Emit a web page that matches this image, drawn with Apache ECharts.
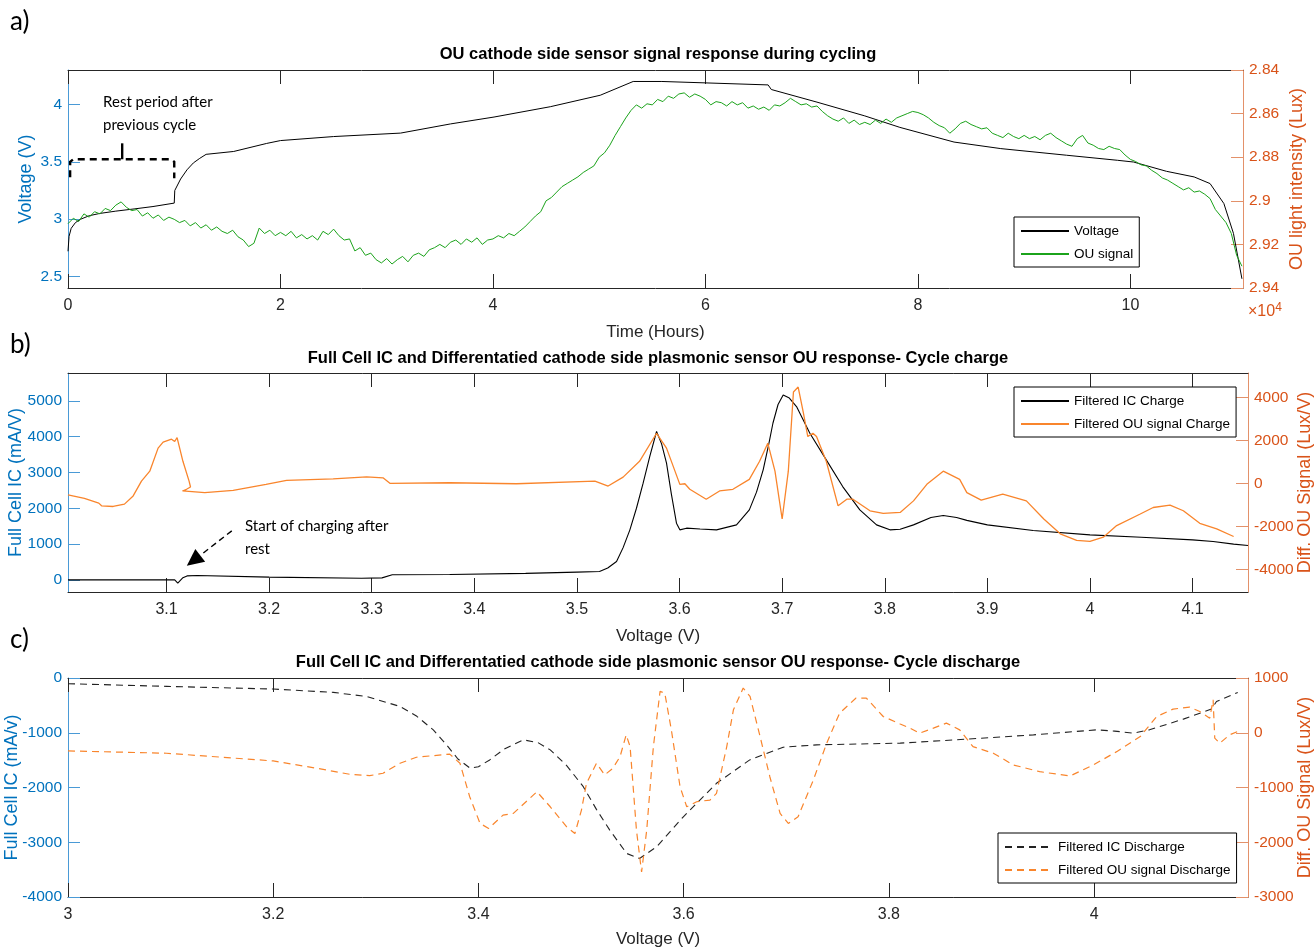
<!DOCTYPE html>
<html>
<head>
<meta charset="utf-8">
<script src="https://cdn.jsdelivr.net/npm/echarts@6/dist/echarts.min.js"></script>
<style>
  html, body { margin: 0; padding: 0; background: #fff; }
  #chart { width: 1316px; height: 951px; }
</style>
</head>
<body>
<div id="chart"></div>
<script>
// a) cell voltage vs time (time in units of 1e4 s)
const voltage = [
  [0.0, 2.72], [0.01, 2.85], [0.03, 2.92], [0.07, 2.97], [0.12, 3.0], [0.2, 3.03], [0.3, 3.05],
  [0.45, 3.07], [0.63, 3.09], [0.8, 3.11], [1.0, 3.14], [1.005, 3.25], [1.06, 3.35], [1.12, 3.43],
  [1.18, 3.49], [1.24, 3.53], [1.3, 3.565], [1.56, 3.59], [1.87, 3.66], [2.0, 3.685], [2.5, 3.72],
  [3.13, 3.75], [3.6, 3.83], [4.01, 3.89], [4.54, 3.98], [5.01, 4.08], [5.32, 4.2], [5.59, 4.2],
  [5.6, 4.19], [6.59, 4.17], [6.62, 4.13], [7.05, 4.02], [7.5, 3.9], [7.83, 3.8], [8.34, 3.672],
  [8.78, 3.615], [9.4, 3.557], [9.88, 3.513], [10.03, 3.498], [10.34, 3.417], [10.6, 3.368],
  [10.75, 3.31], [10.88, 3.136], [10.97, 2.876], [11.05, 2.48]
]

// a) OU light intensity, sampled every 0.05 (x1e4 s) from 0
const ouStart = 0
const ouStep = 0.05
const ouSignal = [
  2.9105, 2.9080, 2.9095, 2.9060, 2.9075, 2.9050, 2.9060, 2.9035, 2.9045, 2.9020,
  2.9005, 2.9030, 2.9045, 2.9040, 2.9070, 2.9055, 2.9080, 2.9065, 2.9090, 2.9075,
  2.9085, 2.9100, 2.9090, 2.9115, 2.9100, 2.9125, 2.9110, 2.9135, 2.9120, 2.9140,
  2.9150, 2.9135, 2.9165, 2.9180, 2.9210, 2.9195, 2.9125, 2.9150, 2.9135, 2.9160,
  2.9145, 2.9160, 2.9140, 2.9170, 2.9155, 2.9175, 2.9160, 2.9180, 2.9140, 2.9155,
  2.9130, 2.9160, 2.9180, 2.9175, 2.9230, 2.9215, 2.9250, 2.9240, 2.9270, 2.9285,
  2.9265, 2.9290, 2.9270, 2.9255, 2.9280, 2.9250, 2.9240, 2.9255, 2.9225, 2.9215,
  2.9200, 2.9215, 2.9190, 2.9180, 2.9200, 2.9175, 2.9190, 2.9170, 2.9200, 2.9180,
  2.9175, 2.9160, 2.9170, 2.9150, 2.9160, 2.9140, 2.9120, 2.9095, 2.9070, 2.9050,
  2.9000, 2.8985, 2.8960, 2.8935, 2.8920, 2.8905, 2.8890, 2.8870, 2.8855, 2.8840,
  2.8800, 2.8780, 2.8745, 2.8700, 2.8660, 2.8620, 2.8585, 2.8560, 2.8575, 2.8555,
  2.8560, 2.8535, 2.8545, 2.8520, 2.8530, 2.8510, 2.8505, 2.8525, 2.8510, 2.8520,
  2.8535, 2.8560, 2.8545, 2.8550, 2.8565, 2.8545, 2.8560, 2.8550, 2.8575, 2.8565,
  2.8580, 2.8570, 2.8585, 2.8560, 2.8565, 2.8550, 2.8530, 2.8545, 2.8560, 2.8555,
  2.8570, 2.8565, 2.8590, 2.8610, 2.8625, 2.8635, 2.8620, 2.8645, 2.8630, 2.8650,
  2.8640, 2.8650, 2.8630, 2.8645, 2.8625, 2.8640, 2.8620, 2.8610, 2.8600, 2.8590,
  2.8595, 2.8605, 2.8620, 2.8640, 2.8655, 2.8665, 2.8690, 2.8670, 2.8645, 2.8635,
  2.8650, 2.8660, 2.8670, 2.8665, 2.8690, 2.8700, 2.8710, 2.8690, 2.8705, 2.8715,
  2.8700, 2.8715, 2.8705, 2.8720, 2.8700, 2.8690, 2.8710, 2.8725, 2.8740, 2.8750,
  2.8715, 2.8700, 2.8735, 2.8745, 2.8760, 2.8765, 2.8750, 2.8760, 2.8765, 2.8790,
  2.8810, 2.8820, 2.8835, 2.8840, 2.8860, 2.8875, 2.8895, 2.8905, 2.8920, 2.8935,
  2.8950, 2.8940, 2.8960, 2.8955, 2.8970, 2.8990, 2.9040, 2.9070, 2.9100, 2.9150,
  2.9250, 2.9300
]

// b) charge: IC (mA/V) and differentiated OU (Lux/V) vs voltage
const icCharge = [
  [3.004, 0], [3.05, 0], [3.108, 0], [3.111, -90], [3.116, 60], [3.12, 110], [3.13, 120], [3.2, 75],
  [3.29, 45], [3.31, 55], [3.32, 140], [3.376, 150], [3.45, 180], [3.5, 215], [3.522, 232], [3.53, 330],
  [3.5386, 512], [3.545, 900], [3.5516, 1397], [3.558, 2000], [3.5645, 2700], [3.571, 3450],
  [3.5776, 4145], [3.5825, 3800], [3.5873, 3260], [3.592, 2400], [3.597, 1584], [3.6003, 1397],
  [3.6068, 1444], [3.62, 1420], [3.636, 1397], [3.6555, 1536], [3.668, 1955], [3.675, 2450],
  [3.6815, 3073], [3.687, 3800], [3.691, 4376], [3.696, 4900], [3.701, 5168], [3.707, 5080],
  [3.714, 4842], [3.727, 4097], [3.743, 3352], [3.759, 2606], [3.7757, 1955], [3.792, 1536],
  [3.805, 1397], [3.815, 1415], [3.828, 1536], [3.845, 1740], [3.857, 1800], [3.87, 1740],
  [3.88, 1662], [3.9, 1536], [3.9446, 1378], [4.0, 1257], [4.05, 1190], [4.1, 1117], [4.12, 1070],
  [4.14, 997], [4.154, 960]
]
const ouCharge = [
  [3.004, -540], [3.02, -700], [3.034, -920], [3.0367, -1044], [3.048, -1075], [3.059, -966],
  [3.0675, -584], [3.0756, 106], [3.0837, 566], [3.0918, 1638], [3.0967, 1914], [3.1049, 2052],
  [3.108, 1946], [3.1103, 2130], [3.116, 1026], [3.122, 106], [3.1234, -170], [3.1195, -276],
  [3.1156, -354], [3.1373, -432], [3.165, -322], [3.197, -46], [3.217, 138], [3.2624, 212],
  [3.295, 304], [3.311, 258], [3.3177, 0], [3.376, 28], [3.441, -18], [3.5175, 106], [3.5304, -124],
  [3.545, 290], [3.561, 1026], [3.5776, 2328], [3.5873, 1638], [3.6003, -46], [3.6052, -18],
  [3.61, -276], [3.626, -736], [3.639, -354], [3.652, -276], [3.668, 184], [3.678, 1026],
  [3.686, 1868], [3.693, 566], [3.7, -1656], [3.706, 566], [3.711, 4246], [3.7156, 4476],
  [3.7205, 3326], [3.725, 2176], [3.73, 2328], [3.7335, 2176], [3.743, 1026], [3.7545, -1044],
  [3.763, -736], [3.769, -736], [3.7856, -1274], [3.7985, -1398], [3.815, -1352], [3.828, -814],
  [3.841, -46], [3.857, 566], [3.873, 184], [3.88, -432], [3.894, -782], [3.915, -506], [3.938, -814],
  [3.955, -1656], [3.971, -2346], [3.987, -2654], [4.0, -2700], [4.013, -2502], [4.026, -1964],
  [4.049, -1426], [4.0616, -1122], [4.078, -1012], [4.091, -1274], [4.107, -1858], [4.1235, -2116],
  [4.14, -2470]
]

// c) discharge
const icDischarge = [
  [3.0, -104], [3.096, -153], [3.2, -202], [3.2585, -263], [3.291, -337], [3.3236, -520], [3.34, -700],
  [3.356, -947], [3.369, -1221], [3.38, -1480], [3.392, -1648], [3.4, -1620], [3.411, -1496],
  [3.425, -1300], [3.4438, -1130], [3.458, -1180], [3.47, -1313], [3.486, -1600], [3.5022, -1985],
  [3.515, -2400], [3.528, -2778], [3.5445, -3205], [3.557, -3297], [3.5737, -3084], [3.5997, -2535],
  [3.632, -1923], [3.6644, -1496], [3.697, -1264], [3.7295, -1221], [3.811, -1190], [3.876, -1117],
  [3.941, -1038], [4.0026, -947], [4.02, -970], [4.038, -1007], [4.054, -947], [4.087, -751],
  [4.1144, -568], [4.1193, -429], [4.14, -263]
]
const ouDischarge = [
  [3.0, -332], [3.096, -374], [3.2, -515], [3.2424, -649], [3.2746, -759], [3.294, -784], [3.307, -740],
  [3.3236, -557], [3.3396, -447], [3.372, -390], [3.382, -557], [3.3915, -1169], [3.4016, -1657],
  [3.41, -1748], [3.424, -1504], [3.434, -1473], [3.457, -1078], [3.47, -1352], [3.486, -1719],
  [3.494, -1840], [3.5004, -1413], [3.5053, -924], [3.515, -557], [3.523, -771], [3.531, -649],
  [3.538, -436], [3.544, -39], [3.5478, -253], [3.554, -1779], [3.559, -2543], [3.564, -1779],
  [3.5705, -253], [3.577, 755], [3.5816, 725], [3.588, 53], [3.5965, -986], [3.603, -1352],
  [3.6127, -1260], [3.6257, -1229], [3.632, -1107], [3.642, -253], [3.6485, 419], [3.658, 817],
  [3.6647, 663], [3.6745, -70], [3.684, -803], [3.694, -1473], [3.702, -1657], [3.7115, -1535],
  [3.7264, -863], [3.7394, -191], [3.752, 359], [3.768, 634], [3.778, 634], [3.7945, 297], [3.811, 160],
  [3.8206, 84], [3.83, -8], [3.8434, 84], [3.856, 176], [3.869, 53], [3.882, -253], [3.9018, -374],
  [3.9213, -588], [3.947, -711], [3.9766, -790], [3.9993, -588], [4.022, -345], [4.045, -70],
  [4.061, 297], [4.077, 432], [4.093, 469], [4.103, 388], [4.1127, 267], [4.116, 603], [4.1176, -99],
  [4.1225, -191], [4.132, -39], [4.14, 22]
]

// tick labels
const timeTicks = [0, 2, 4, 6, 8, 10]
const voltTicksA = [2.5, 3, 3.5, 4]
const luxTicks = [2.84, 2.86, 2.88, 2.9, 2.92, 2.94]
const vTicksB = [3.1, 3.2, 3.3, 3.4, 3.5, 3.6, 3.7, 3.8, 3.9, 4, 4.1]
const icTicksB = [0, 1000, 2000, 3000, 4000, 5000]
const diffTicksB = [-4000, -2000, 0, 2000, 4000]
const vTicksC = [3, 3.2, 3.4, 3.6, 3.8, 4]
const icTicksC = [-4000, -3000, -2000, -1000, 0]
const diffTicksC = [-3000, -2000, -1000, 0, 1000]

// annotations (data coords)
const restBracket = [[0.02, 3.365], [0.02, 3.50], [0.05, 3.522], [0.97, 3.522], [1.0, 3.50], [1.0, 3.357]]
const restNotch = [[0.51, 3.522], [0.51, 3.661]]
const restText = [0.33, 4.12]
const chargeArrow = [[3.1636, 1369], [3.1198, 391]]
const chargeText = [3.1765, 1816]

const sans = '"Liberation Sans", Arial, sans-serif'
const calib = 'Lato, "Open Sans", sans-serif'
const blue = '#0072BD'
const blueLine = '#4A9AD6'
const orange = '#D95319'
const orangeLine = '#E3916A'
const dark = '#262626'
const green = '#1BA31B'
const lineOrange = '#F9852C'

const fmt = v => String(v)

const bottomX = (grid, min, max, ticks, name, nameGap) => ({
  type: 'value', gridIndex: grid, position: 'bottom', min, max,
  name, nameLocation: 'middle', nameGap, nameMoveOverlap: false,
  nameTextStyle: { fontFamily: sans, fontSize: 17, color: dark },
  axisLine: { show: true, onZero: false, lineStyle: { color: dark, width: 1 } },
  axisTick: { show: true, inside: true, length: 14, customValues: ticks, lineStyle: { color: dark } },
  axisLabel: { customValues: ticks, margin: 10, fontFamily: sans, fontSize: 16, color: dark, formatter: fmt },
  splitLine: { show: false }
})
const topX = (grid, min, max, ticks) => ({
  type: 'value', gridIndex: grid, position: 'top', min, max,
  axisLine: { show: true, onZero: false, lineStyle: { color: dark, width: 1 } },
  axisTick: { show: true, inside: true, length: 14, customValues: ticks, lineStyle: { color: dark } },
  axisLabel: { show: false },
  splitLine: { show: false }
})
const yAx = (grid, pos, min, max, ticks, name, nameGap, inverse) => {
  const c = pos === 'left' ? blue : orange
  const lc = pos === 'left' ? blueLine : orangeLine
  return {
    type: 'value', gridIndex: grid, position: pos, min, max, inverse: !!inverse,
    name, nameLocation: 'middle', nameGap, nameRotate: 90, nameMoveOverlap: false,
    nameTextStyle: { fontFamily: sans, fontSize: 18, color: c },
    axisLine: { show: true, onZero: false, lineStyle: { color: lc, width: 1 } },
    axisTick: { show: true, inside: true, length: 12, customValues: ticks, lineStyle: { color: lc } },
    axisLabel: { customValues: ticks, margin: 6, fontFamily: sans, fontSize: 15.5, color: c, formatter: fmt },
    splitLine: { show: false }
  }
}
const legendBox = (names, left, top) => ({
  data: names, orient: 'vertical', left, top, selectedMode: false,
  itemWidth: 48, itemHeight: 12, itemGap: 9, padding: [7, 6, 6, 6],
  itemStyle: { opacity: 0 },
  borderColor: '#000', borderWidth: 1, backgroundColor: '#fff', borderRadius: 0,
  textStyle: { fontFamily: sans, fontSize: 13.5, color: '#000' }
})
const titleStyle = { fontFamily: sans, fontWeight: 'bold', fontSize: 16.5, color: '#000' }

const option = {
  animation: false,
  backgroundColor: '#fff',
  title: [
    { text: 'OU cathode side sensor signal response during cycling', left: 'center', top: 46, padding: 0, textStyle: titleStyle },
    { text: 'Full Cell IC and Differentatied cathode side plasmonic sensor OU response- Cycle charge', left: 'center', top: 350, padding: 0, textStyle: titleStyle },
    { text: 'Full Cell IC and Differentatied cathode side plasmonic sensor OU response- Cycle discharge', left: 'center', top: 654, padding: 0, textStyle: titleStyle }
  ],
  grid: [
    { left: 68, right: 73, top: 70, height: 218, outerBoundsMode: 'none' },
    { left: 68, right: 68, top: 373, height: 219, outerBoundsMode: 'none' },
    { left: 68, right: 68, top: 678, height: 219, outerBoundsMode: 'none' }
  ],
  xAxis: [
    bottomX(0, 0, 11.06, timeTicks, 'Time (Hours)', 36),
    topX(0, 0, 11.06, timeTicks),
    bottomX(1, 3.004, 4.154, vTicksB, 'Voltage (V)', 36),
    topX(1, 3.004, 4.154, vTicksB),
    bottomX(2, 3, 4.15, vTicksC, 'Voltage (V)', 34),
    topX(2, 3, 4.15, vTicksC)
  ],
  yAxis: [
    yAx(0, 'left', 2.4, 4.3, voltTicksA, 'Voltage (V)', 33),
    yAx(0, 'right', 2.84, 2.94, luxTicks, 'OU light intensity (Lux)', 45, true),
    yAx(1, 'left', -340, 5780, icTicksB, 'Full Cell IC (mA/V)', 43),
    yAx(1, 'right', -5050, 5130, diffTicksB, 'Diff. OU Signal (Lux/V)', 48),
    yAx(2, 'left', -4000, 0, icTicksC, 'Full Cell IC (mA/v)', 47),
    yAx(2, 'right', -3000, 1000, diffTicksC, 'Diff. OU Signal (Lux/V)', 48)
  ],
  legend: [
    legendBox(['Voltage', 'OU signal'], 1014, 217),
    legendBox(['Filtered IC Charge', 'Filtered OU signal Charge'], 1014, 387),
    legendBox(['Filtered IC Discharge', 'Filtered OU signal Discharge'], 998, 833)
  ],
  series: [
    { name: 'Voltage', type: 'line', xAxisIndex: 0, yAxisIndex: 0, symbol: 'none', data: voltage,
      lineStyle: { color: '#000', width: 1 }, itemStyle: { color: '#000' } },
    { name: 'OU signal', type: 'line', xAxisIndex: 0, yAxisIndex: 1, symbol: 'none',
      data: ouSignal.map((v, i) => [ouStart + i * ouStep, v]),
      lineStyle: { color: green, width: 1 }, itemStyle: { color: green } },
    { name: 'Filtered IC Charge', type: 'line', xAxisIndex: 2, yAxisIndex: 2, symbol: 'none', data: icCharge,
      lineStyle: { color: '#000', width: 1.1 }, itemStyle: { color: '#000' } },
    { name: 'Filtered OU signal Charge', type: 'line', xAxisIndex: 2, yAxisIndex: 3, symbol: 'none', data: ouCharge,
      lineStyle: { color: lineOrange, width: 1.3 }, itemStyle: { color: lineOrange } },
    { name: 'Filtered IC Discharge', type: 'line', xAxisIndex: 4, yAxisIndex: 4, symbol: 'none', data: icDischarge,
      lineStyle: { color: '#222', width: 1.1, type: [7, 5] }, itemStyle: { color: '#222' } },
    { name: 'Filtered OU signal Discharge', type: 'line', xAxisIndex: 4, yAxisIndex: 5, symbol: 'none', data: ouDischarge,
      lineStyle: { color: lineOrange, width: 1.2, type: [7, 5] }, itemStyle: { color: lineOrange } }
  ]
}

const chart = echarts.init(document.getElementById('chart'), null, { renderer: 'canvas' })
chart.setOption(option)

// annotations placed through the axes' own scales
const toPx = (xi, yi, pt) => chart.convertToPixel({ xAxisIndex: xi, yAxisIndex: yi }, pt)
const bracketPx = restBracket.map(p => toPx(0, 0, p))
const notchPx = restNotch.map(p => toPx(0, 0, p))
const restPx = toPx(0, 0, restText)
const tail = toPx(2, 2, chargeArrow[0])
const tip = toPx(2, 2, chargeArrow[1])
const dx = tip[0] - tail[0], dy = tip[1] - tail[1]
const len = Math.sqrt(dx * dx + dy * dy)
const ux = dx / len, uy = dy / len
const base = [tip[0] - ux * 17, tip[1] - uy * 17]
const headL = [base[0] - uy * 8, base[1] + ux * 8]
const headR = [base[0] + uy * 8, base[1] - ux * 8]
const chargePx = toPx(2, 2, chargeText)

const dashed = { stroke: '#000', lineWidth: 2.4, lineDash: [7, 5], fill: null }
chart.setOption({
  graphic: [
    { type: 'text', left: 10, top: 9, style: { text: 'a)', font: '26px ' + calib, fill: '#000' } },
    { type: 'text', left: 10, top: 332, style: { text: 'b)', font: '26px ' + calib, fill: '#000' } },
    { type: 'text', left: 10, top: 627, style: { text: 'c)', font: '26px ' + calib, fill: '#000' } },
    { type: 'text', left: 1248, top: 302, style: { text: '×10{s|4}', font: '16px ' + sans, fill: orange,
      rich: { s: { fontSize: 12, fontFamily: sans, color: orange, verticalAlign: 'top', padding: [0, 0, 8, 0] } } } },
    { type: 'polyline', shape: { points: bracketPx }, style: dashed, z: 10 },
    { type: 'polyline', shape: { points: notchPx }, style: { stroke: '#000', lineWidth: 2.4, fill: null }, z: 10 },
    { type: 'text', x: restPx[0], y: restPx[1], style: { text: 'Rest period after\nprevious cycle', font: '15px ' + calib, fill: '#000', lineHeight: 23 }, z: 10 },
    { type: 'polyline', shape: { points: [tail, base] }, style: { stroke: '#000', lineWidth: 1.4, lineDash: [6, 4], fill: null }, z: 10 },
    { type: 'polygon', shape: { points: [tip, headL, headR] }, style: { fill: '#000' }, z: 10 },
    { type: 'text', x: chargePx[0], y: chargePx[1], style: { text: 'Start of charging after\nrest', font: '15px ' + calib, fill: '#000', lineHeight: 23 }, z: 10 }
  ]
})
</script>
</body>
</html>
